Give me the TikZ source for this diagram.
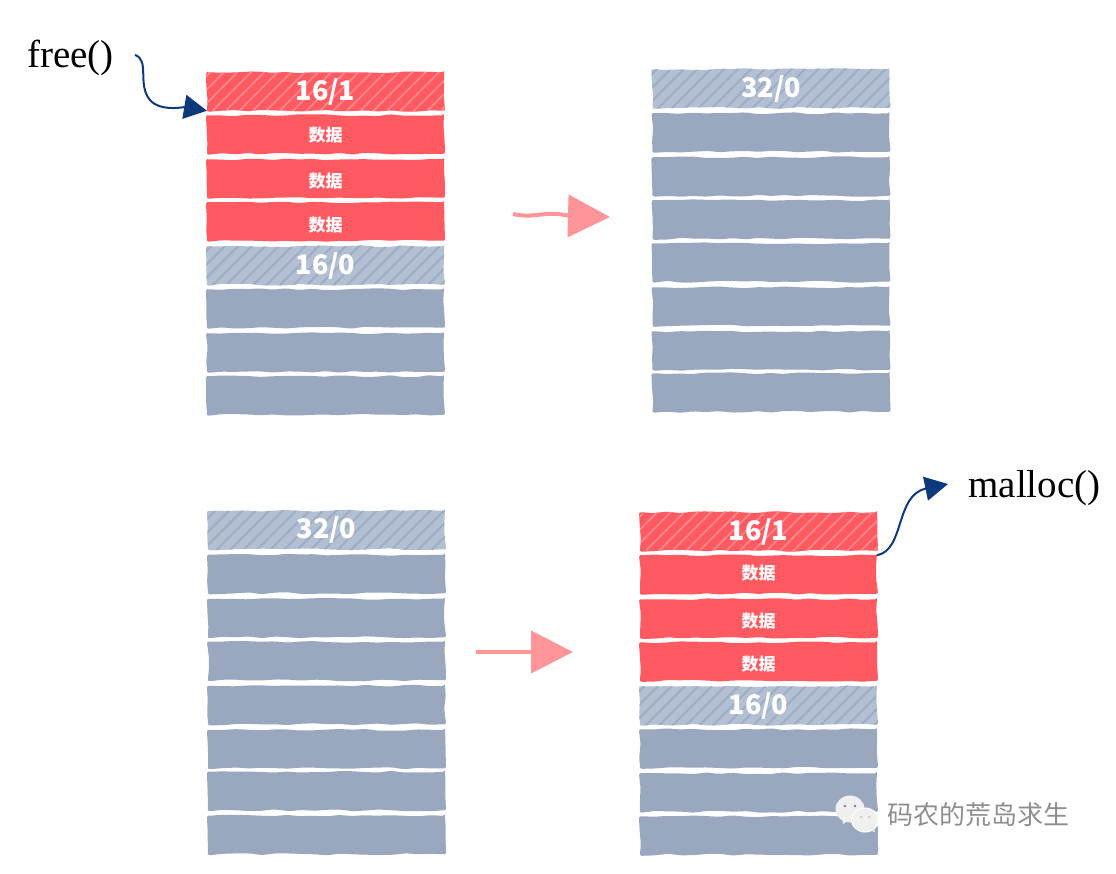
\documentclass[tikz,border=0pt]{standalone}
\usepackage{fontspec}
\newfontfamily\cjk{Noto Sans CJK SC}
\newfontfamily\titlefont{Liberation Serif}
\usetikzlibrary{arrows.meta,positioning,patterns.meta,decorations.pathmorphing,shapes.geometric}
\definecolor{CellRed}{HTML}{FF5A61}
\definecolor{CellRedLine}{HTML}{FF8B8F}
\definecolor{CellGray}{HTML}{9AA8BF}
\definecolor{HeadGray}{HTML}{B3C0D3}
\definecolor{HeadGrayLine}{HTML}{9FADC4}
\definecolor{ArrowNavy}{HTML}{0D3A7C}
\definecolor{ArrowPink}{HTML}{FF9499}
\definecolor{MarkGray}{HTML}{8E8E8E}
\newcommand{\shuju}[1]{\raisebox{#1}[0pt][0pt]{\cjk\bfseries 数据}}
\begin{document}
\begin{tikzpicture}[x=1pt,y=-1pt,
        cell/.style={minimum width=237pt,minimum height=38.5pt,inner sep=0pt,outer sep=0pt,
                     text=white,rounded corners=2pt,decorate,
                     decoration={random steps,segment length=13pt,amplitude=1pt}},
        datacell/.style={cell,fill=CellRed,font=\fontsize{17}{17}\selectfont},
        freecell/.style={cell,fill=CellGray},
        usedhead/.style={cell,preaction={fill=CellRed},font=\cjk\fontsize{27}{27}\selectfont\bfseries,
                     pattern={Lines[angle=45,distance=9.5pt,line width=1.6pt]},pattern color=CellRedLine},
        freehead/.style={cell,preaction={fill=HeadGray},font=\cjk\fontsize{27}{27}\selectfont\bfseries,
                     pattern={Lines[angle=45,distance=9.5pt,line width=2pt]},pattern color=HeadGrayLine},
        callname/.style={inner sep=0pt,font=\titlefont\fontsize{39}{39}\selectfont},
        callarrow/.style={-{Triangle[length=23pt,width=24pt]},ArrowNavy,line width=2pt},
        movearrow/.style={-{Triangle[length=42pt,width=42pt]},ArrowPink,line width=4pt},
        bubble/.style={ellipse,fill=white!94!black,inner sep=0pt}]
        \useasboundingbox (0,0) rectangle (1116,874);
        % top left
        \node[usedhead] (a1) at (325.5,91.5) {16/1};
        \node[datacell,below=4.5pt of a1] (a2) {\shuju{-7pt}};
        \node[datacell,below=5.5pt of a2] (a3) {\shuju{-9pt}};
        \node[datacell,below=4.5pt of a3] (a4) {\shuju{-10pt}};
        \node[freehead,below=5.5pt of a4] (a5) {16/0};
        \node[freecell,below=4.5pt of a5] (a6) {};
        \node[freecell,below=5.5pt of a6] (a7) {};
        \node[freecell,below=4.5pt of a7] (a8) {};
        % top right
        \node[freehead] (b1) at (771,88.5) {32/0};
        \foreach \a/\b/\g in {b1/b2/5.5,b2/b3/5.5,b3/b4/4.5,b4/b5/4.5,b5/b6/5.5,b6/b7/5.5,b7/b8/3.5}{
          \node[freecell,below=\g pt of \a] (\b) {};
        }
        % bottom left
        \node[freehead] (c1) at (326.5,530) {32/0};
        \foreach \a/\b/\g in {c1/c2/5.5,c2/c3/5.5,c3/c4/4.5,c4/c5/5.5,c5/c6/5.5,c6/c7/3.5,c7/c8/5.5}{
          \node[freecell,below=\g pt of \a] (\b) {};
        }
        % bottom right
        \node[usedhead] (d1) at (758.5,531.5) {16/1};
        \node[datacell,below=4.5pt of d1] (d2) {\shuju{-5pt}};
        \node[datacell,below=5.5pt of d2] (d3) {\shuju{-9pt}};
        \node[datacell,below=4.5pt of d3] (d4) {\shuju{-9pt}};
        \node[freehead,below=5.5pt of d4] (d5) {16/0};
        \node[freecell,below=4.5pt of d5] (d6) {};
        \node[freecell,below=5.5pt of d6] (d7) {};
        \node[freecell,below=4.5pt of d7] (d8) {};
        % calls
        \node[callname] (free) at (70.5,58) {free()};
        \node[callname] (malloc) at (1034.5,488) {malloc()};
        \coordinate (freeout) at (135,55);
        \coordinate (mallocin) at (948,484);
        \draw[callarrow] (freeout) .. controls (150,60) and (137,85) .. (150,100)
              .. controls (160,112) and (185,107) .. (a1.south west);
        \draw[callarrow] (d2.north east) .. controls (905,550) and (895,495) .. (mallocin);
        % moves
        \coordinate (move1a) at (513,214);
        \coordinate (move1b) at (610,217);
        \coordinate (move2a) at (476,652);
        \coordinate (move2b) at (573,652);
        \draw[movearrow] (move1a) .. controls (535,219) and (545,210) .. (570,216) -- (move1b);
        \draw[movearrow] (move2a) -- (move2b);
        % mark
        \fill[white!94!black] (842,816) -- (843,824) -- (852,818) -- cycle;
        \fill[white!94!black] (873,826) -- (875,832) -- (866,829) -- cycle;
        \node[bubble,minimum width=29pt,minimum height=27pt] (wa) at (850,809) {};
        \node[bubble,draw=white,line width=1pt,minimum width=27pt,minimum height=24pt] (wb) at (865,820) {};
        \fill[gray] ([shift={(-5,-3)}]wa.center) circle (1.3pt) ([shift={(5,-3)}]wa.center) circle (1.3pt);
        \fill[gray!60] ([shift={(-4,-3)}]wb.center) circle (1pt) ([shift={(4,-3)}]wb.center) circle (1pt);
        \node[inner sep=0pt,text=MarkGray,font=\cjk\fontsize{26}{26}\selectfont] (mark) at (978.5,815) {码农的荒岛求生};
      \end{tikzpicture}
\end{document}
